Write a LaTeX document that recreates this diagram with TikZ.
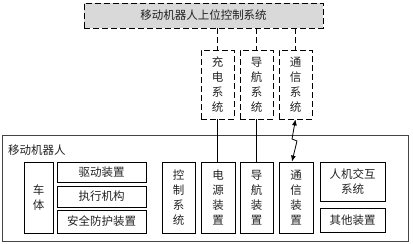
\documentclass[tikz,border=0pt]{standalone}
\usepackage{fontspec}
\setmainfont{Noto Sans CJK SC}
\usetikzlibrary{arrows.meta}
\definecolor{topgray}{HTML}{D9D9D9}
\definecolor{linegray}{HTML}{444444}
\definecolor{txt}{HTML}{222222}
\begin{document}
\begin{tikzpicture}[x=1pt,y=-1pt,
  every node/.style={font=\fontsize{11.5}{15}\selectfont, text=txt, inner sep=0pt},
  sbox/.style={draw=black, line width=0.8pt, align=center},
  dbox/.style={draw=black, line width=0.8pt, dash pattern=on 6pt off 3pt, align=center},
  dline/.style={draw=black, line width=0.8pt, dash pattern=on 6pt off 3pt},
  sline/.style={draw=black, line width=0.8pt},
  bolt/.style={draw=black, line width=0.8pt, {Latex[length=6pt,width=5pt]}-{Latex[length=6pt,width=5pt]}}
]
\useasboundingbox (0,0) rectangle (413,244);
% outer robot box
\node[draw=linegray, line width=0.9pt, minimum width=406pt, minimum height=106pt] (robot) at (205,188) {};
\node[anchor=west] (robotlbl) at (8,150) {移动机器人};
% upper control system
\node[dbox, fill=topgray, minimum width=239pt, minimum height=25pt] (top) at (203.5,15.5) {移动机器人上位控制系统};
% dashed subsystems
\node[dbox, minimum width=33pt, minimum height=69pt] (chg) at (217.5,84.5) {充\\电\\系\\统};
\node[dbox, minimum width=33pt, minimum height=69pt] (nav) at (256.5,84.5) {导\\航\\系\\统};
\node[dbox, minimum width=33pt, minimum height=69pt] (com) at (295.5,84.5) {通\\信\\系\\统};
% inner boxes
\node[sbox, minimum width=29pt, minimum height=71pt] (body) at (38.5,197.5) {车\\体};
\node[sbox, minimum width=89pt, minimum height=20pt] (drive) at (101.5,172) {驱动装置};
\node[sbox, minimum width=89pt, minimum height=21pt] (exec) at (101.5,196.5) {执行机构};
\node[sbox, minimum width=89pt, minimum height=23pt] (safe) at (101.5,221.5) {安全防护装置};
\node[sbox, minimum width=33pt, minimum height=71pt] (ctrl) at (178.5,197.5) {控\\制\\系\\统};
\node[sbox, minimum width=34pt, minimum height=71pt] (pwr) at (218,197.5) {电\\源\\装\\置};
\node[sbox, minimum width=33pt, minimum height=71pt] (navd) at (256.5,197.5) {导\\航\\装\\置};
\node[sbox, minimum width=34pt, minimum height=71pt] (comd) at (296,197.5) {通\\信\\装\\置};
\node[sbox, minimum width=65pt, minimum height=39pt] (hmi) at (352.5,181.5) {人机交互\\系统};
\node[sbox, minimum width=65pt, minimum height=24pt] (other) at (352.5,220) {其他装置};
% connectors
\draw[dline] (top.south -| chg.north) -- (chg.north);
\draw[dline] (top.south -| nav.north) -- (nav.north);
\draw[dline] (top.south -| com.north) -- (com.north);
\draw[sline] (chg.south) -- (chg.south |- pwr.north);
\draw[sline] (nav.south) -- (nav.south |- navd.north);
\draw[bolt] (com.south) -- (292,139) -- (297,141) -- ([xshift=-4pt]comd.north);
\end{tikzpicture}
\end{document}
